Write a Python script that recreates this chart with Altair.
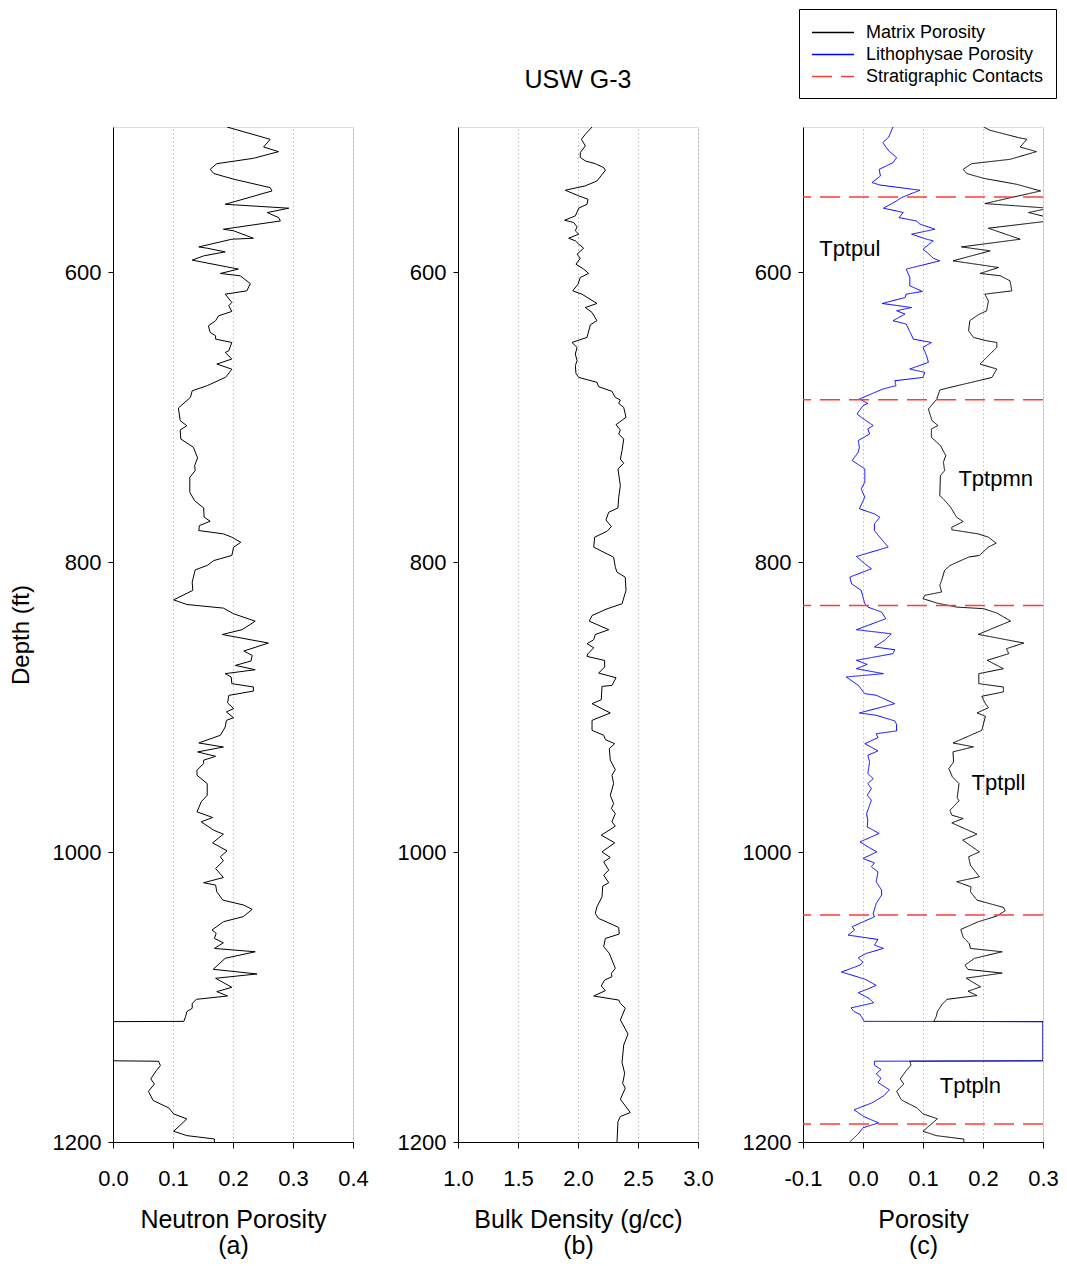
import altair as alt
import pandas as pd

FONT = "Liberation Sans"

# ---------------- data (depth ft, value) ----------------
neutron = [
    (500, 0.190), (508.5, 0.262), (513.8, 0.251), (517, 0.276), (521.6, 0.234), (525.3, 0.173),
    (529.2, 0.162), (532.1, 0.168), (536, 0.201), (541.8, 0.262), (544.1, 0.265), (553.3, 0.187),
    (556, 0.293), (559, 0.257), (562.5, 0.276), (564.8, 0.279), (570.5, 0.184), (571.6, 0.201),
    (576.7, 0.234), (577.4, 0.198), (582.7, 0.143), (583.6, 0.157), (586.1, 0.187), (588.9, 0.151),
    (591.8, 0.132), (598, 0.209), (601, 0.179), (602.6, 0.212), (608, 0.229), (613, 0.223),
    (615.3, 0.187), (621, 0.198), (623.3, 0.193), (627.2, 0.198), (630.2, 0.176), (633.6, 0.171),
    (637.1, 0.159), (641.7, 0.162), (644, 0.171), (646.3, 0.171), (648.6, 0.198), (654.3, 0.193),
    (655.5, 0.187), (660, 0.198), (663.5, 0.173), (667, 0.198), (671.5, 0.190),
    (672.7, 0.187), (678.4, 0.157), (681.9, 0.132), (686.5, 0.129), (693.8, 0.109), (702.5, 0.112),
    (706, 0.123), (709, 0.112), (715.2, 0.113), (720.9, 0.134), (728.3, 0.141), (733.5, 0.136),
    (737, 0.137), (741.6, 0.128), (751.9, 0.128), (757.7, 0.136), (762.7, 0.151), (769.1, 0.152),
    (771.9, 0.162), (774.9, 0.144), (778.3, 0.143), (780.6, 0.184), (782.9, 0.198), (786.4, 0.213),
    (789.8, 0.201), (795.5, 0.198), (799, 0.168), (802.4, 0.157), (805.4, 0.137), (813.9, 0.132),
    (819.6, 0.133), (826.1, 0.101), (829.3, 0.123), (831.8, 0.184), (835.7, 0.201), (840.8, 0.237),
    (846.7, 0.215), (850, 0.182), (855.9, 0.259), (861.4, 0.218), (864.4, 0.232), (868.3, 0.230),
    (871.3, 0.204), (874.3, 0.237), (877, 0.187), (879.3, 0.197), (883.9, 0.198), (886.2, 0.234),
    (889, 0.234), (892, 0.193), (897.2, 0.191), (901.1, 0.201), (903.4, 0.189), (907.4, 0.201),
    (909.2, 0.189), (913.8, 0.187), (919.5, 0.179), (924.8, 0.143), (927.6, 0.184), (931, 0.141),
    (934, 0.171), (936.7, 0.151), (939, 0.151), (943.6, 0.140), (947.1, 0.140), (952.8, 0.157),
    (960.9, 0.157), (965.4, 0.147), (972.3, 0.140), (976.2, 0.166), (979.2, 0.147), (985, 0.168),
    (987.7, 0.184), (993.7, 0.166), (999.2, 0.190), (1003.3, 0.179), (1006.1, 0.184), (1011.4, 0.171),
    (1017.6, 0.184), (1021.2, 0.151), (1022.8, 0.171), (1027.4, 0.173), (1033.2, 0.183), (1036.6, 0.218),
    (1039.6, 0.232), (1044.6, 0.217), (1048.1, 0.184), (1053.8, 0.165), (1056.1, 0.172), (1059.6, 0.169),
    (1062.6, 0.184), (1066.5, 0.169), (1068.8, 0.237), (1073.3, 0.187), (1080.9, 0.167), (1084.1, 0.240),
    (1087.1, 0.171), (1093.3, 0.198), (1096.3, 0.173), (1099.3, 0.191), (1101.6, 0.139), (1104.4, 0.132),
    (1107.8, 0.132), (1110.1, 0.123), (1113.5, 0.121), (1116.8, 0.118), (1117, 0.0), (1144, 0.0),
    (1144.3, 0.076), (1147.3, 0.079), (1150.8, 0.072), (1156.5, 0.063), (1160, 0.069), (1165.1, 0.059),
    (1171.4, 0.067), (1176.5, 0.093), (1180.6, 0.101), (1184.1, 0.123), (1192.6, 0.101), (1195.6, 0.123),
    (1197.9, 0.169), (1200, 0.169),
]

density = [
    (500, 2.117), (505, 2.061), (508.5, 2.028), (513, 2.061), (517.7, 2.019), (521, 2.019), (523.4, 2.061),
    (525.3, 2.144), (528, 2.214), (529.9, 2.228), (537.2, 2.158), (540.6, 2.061), (543.6, 1.894),
    (547.5, 2.006), (549.8, 2.083), (553.3, 2.075), (556, 2.006), (561.3, 1.978), (564.3, 1.889),
    (565.9, 1.964), (568.9, 1.992), (571.6, 1.978), (573.9, 2.006), (576.7, 1.922), (578.5, 1.978),
    (580.8, 2.006), (583.6, 2.047), (587.7, 1.992), (590.5, 2.019), (594.6, 1.983), (598, 2.047),
    (601, 2.089), (603.8, 2.019), (608.4, 2.0), (613, 1.956), (615.3, 2.033), (621.7, 2.158),
    (624.5, 2.061), (627.9, 2.117), (633.6, 2.158), (636.4, 2.103), (645.1, 2.075), (648.6, 1.95),
    (652, 1.992), (656.6, 1.978), (661.2, 1.992), (664.6, 1.978),
    (669.9, 1.983), (672.7, 2.006), (676.1, 2.158), (679.1, 2.172), (682.3, 2.283), (686.5, 2.311),
    (688.3, 2.353), (690.6, 2.339), (693.4, 2.381), (700.2, 2.4), (705.3, 2.317), (709, 2.353),
    (711.7, 2.339), (715.2, 2.381), (723.2, 2.367), (729, 2.353), (731.9, 2.381), (735.8, 2.333),
    (747.3, 2.353), (755.4, 2.339), (762.7, 2.333), (765.7, 2.256), (771, 2.233), (775.6, 2.278),
    (778.8, 2.242), (782.9, 2.139), (789.8, 2.131), (796.7, 2.297), (803.6, 2.311), (807, 2.325),
    (810.5, 2.394), (819.6, 2.4), (828.8, 2.367), (832.3, 2.242), (836.9, 2.117), (840.8, 2.094),
    (846.7, 2.256), (850, 2.144), (853.6, 2.131), (856.4, 2.075), (859.1, 2.131), (863.3, 2.083),
    (865.1, 2.075), (867.9, 2.222), (872.4, 2.222), (876.6, 2.172), (879.8, 2.317), (885.1, 2.283),
    (885.8, 2.2), (895, 2.194), (897.7, 2.117), (904.1, 2.269), (909.2, 2.117), (916.1, 2.117),
    (919.5, 2.214), (922.5, 2.228), (925.3, 2.306), (928.7, 2.261), (936.7, 2.269), (943.2, 2.311),
    (947.1, 2.283), (952.8, 2.297), (960.9, 2.269), (966.6, 2.297), (970, 2.278), (973.5, 2.311),
    (979.2, 2.283), (982.2, 2.311), (988.4, 2.194), (993.7, 2.306), (999.9, 2.2), (1003.8, 2.269),
    (1006.8, 2.214), (1012.5, 2.256),
    (1016, 2.214), (1021.2, 2.256), (1023.5, 2.206), (1030.9, 2.2), (1037.8, 2.158), (1042.4, 2.144),
    (1045.8, 2.172), (1052, 2.339), (1056.6, 2.344), (1059.6, 2.228), (1065.3, 2.214), (1069.9, 2.261),
    (1080.2, 2.311), (1083.7, 2.278), (1086, 2.283), (1088.3, 2.222), (1092.4, 2.194), (1095.6, 2.228),
    (1099.3, 2.131), (1102.1, 2.339), (1104.4, 2.353), (1107.8, 2.394), (1115.8, 2.353), (1125.5, 2.417),
    (1133.1, 2.381), (1145.2, 2.367), (1152.6, 2.389), (1159.5, 2.372), (1162.9, 2.394), (1170.5, 2.353),
    (1179.7, 2.436), (1182.4, 2.353), (1185.9, 2.333), (1200, 2.325),
]

matrix = [
    (500, 0.201), (502.3, 0.212), (507.3, 0.259), (508.5, 0.273), (513.8, 0.262), (517, 0.289),
    (522.3, 0.245), (525.3, 0.181), (529.2, 0.167), (532.1, 0.173), (535.4, 0.201), (539.5, 0.256),
    (544.1, 0.296), (552.8, 0.203), (556, 0.31), (559, 0.276), (562.5, 0.31), (564.8, 0.31),
    (569.8, 0.209), (577.4, 0.262), (582.7, 0.164), (585.4, 0.212), (592.3, 0.150), (596.9, 0.226),
    (601, 0.195), (602.6, 0.229), (606.1, 0.245), (613, 0.248), (615.3, 0.203), (619.9, 0.209),
    (626.8, 0.206), (629.5, 0.192), (633.6, 0.178), (640.5, 0.176), (645.1, 0.184), (647.4, 0.206),
    (648.6, 0.223), (652, 0.223), (663.5, 0.195), (666.9, 0.223), (672.7, 0.215), (675, 0.192),
    (679.6, 0.145), (681.4, 0.128), (687.6, 0.123), (694.5, 0.109),
    (702.5, 0.115), (705.9, 0.125), (708.2, 0.114), (714, 0.114), (719.7, 0.129), (726.6, 0.138),
    (731.2, 0.134), (737, 0.136), (740.4, 0.129), (754.2, 0.128), (756.5, 0.134), (762.2, 0.146),
    (769.1, 0.156), (772.1, 0.167), (776, 0.148), (777.8, 0.148), (780.6, 0.192), (782.9, 0.209),
    (787, 0.222), (789.7, 0.209), (795.5, 0.194), (796.6, 0.176), (802.4, 0.145), (805.8, 0.136),
    (812.7, 0.131), (816.1, 0.128), (820.7, 0.131), (823, 0.103), (825.3, 0.100), (828.3, 0.123),
    (831.1, 0.156), (832.2, 0.201), (835.2, 0.223), (840.7, 0.246), (849.9, 0.192), (855.9, 0.268),
    (859.8, 0.239), (863.2, 0.243), (867.8, 0.207), (873.6, 0.234), (877, 0.193), (883.9, 0.193),
    (886.2, 0.234), (889.6, 0.234), (892.6, 0.198), (897.7, 0.204), (900.5, 0.209),
    (904.1, 0.190), (906.4, 0.204), (916.1, 0.198), (924.8, 0.150), (927.5, 0.184), (930.9, 0.150),
    (937.9, 0.151), (942.5, 0.143), (948.2, 0.149), (952.8, 0.160), (962.5, 0.157), (964.7, 0.160),
    (971.2, 0.145), (974.6, 0.148), (976.9, 0.167), (979.9, 0.148), (987.7, 0.190), (991.8, 0.166),
    (999.9, 0.194), (1003.3, 0.176), (1009.1, 0.179), (1017.1, 0.194), (1020.5, 0.156), (1024, 0.180),
    (1027.4, 0.179), (1033.2, 0.190), (1038.2, 0.234), (1040.5, 0.237), (1044.2, 0.223), (1048.1, 0.192),
    (1053.4, 0.163), (1058.9, 0.167), (1063, 0.177), (1066.5, 0.179),
    (1068.8, 0.232), (1073.3, 0.186), (1078, 0.170), (1081, 0.175), (1083.5, 0.232), (1087, 0.172),
    (1093, 0.196), (1096, 0.175), (1099, 0.190), (1101.6, 0.140), (1105, 0.132), (1110, 0.124),
    (1113.5, 0.122), (1116.8, 0.118), (1117, 0.3), (1144, 0.3), (1144.3, 0.078), (1147, 0.080),
    (1150.8, 0.072), (1156.5, 0.062), (1160, 0.068), (1165, 0.056), (1171, 0.064), (1176.5, 0.090),
    (1180.6, 0.100), (1184, 0.124), (1192.6, 0.100), (1195.6, 0.122), (1198, 0.168), (1200, 0.168),
]

litho = [
    (500, 0.050), (503.9, 0.046), (506.9, 0.043), (510.8, 0.033), (516.5, 0.043), (521.1, 0.056),
    (524.6, 0.050), (529.2, 0.027), (533.8, 0.029), (538.3, 0.015), (540, 0.028), (543.6, 0.095),
    (548.7, 0.064), (551, 0.056), (556, 0.034), (557.9, 0.056), (559, 0.067), (562.5, 0.060),
    (564.8, 0.089), (567, 0.095), (570.5, 0.120), (573.9, 0.081), (577.4, 0.106), (578.5, 0.117),
    (584.3, 0.100), (587.3, 0.109), (590.5, 0.117), (592.3, 0.128), (598, 0.072), (603.8, 0.078),
    (609.5, 0.078), (613.4, 0.099), (615.3, 0.072), (617.6, 0.070), (621.7, 0.032), (624.5, 0.081),
    (626.7, 0.056), (629, 0.070), (633.6, 0.050), (635.9, 0.072), (646.3, 0.084), (648.6, 0.114),
    (652, 0.100), (657.7, 0.106), (662.3, 0.109), (666.9, 0.078), (669.2, 0.103), (672.7, 0.100),
    (675, 0.053), (678.4, 0.055), (680.7, 0.033), (687.6, -0.006), (690.6, 0.008), (692.2, 0.000),
    (697.9, -0.010), (700.2, -0.003), (705.9, 0.017), (708.2, 0.008), (711.7, 0.011), (716.3, -0.008),
    (720.9, -0.006), (724.3, -0.008), (730, -0.018), (735.8, 0.003), (745, 0.003), (749.6, -0.003),
    (755.3, 0.003), (763.3, -0.006), (766.8, 0.019), (769.1, 0.028), (773.7, 0.019), (778.3, 0.019),
    (782.9, 0.028), (789.7, 0.042), (796.2, -0.011), (801.2, 0.003), (804.7, 0.014), (810.4, -0.022),
    (815, -0.019), (819.6, -0.003), (824.2, 0.000), (828.8, 0.003), (831.1, 0.008), (834.5, 0.031),
    (839.1, 0.038), (846.7, -0.011), (849.5, 0.047), (854, 0.036), (858.6, 0.019), (860.5, 0.053),
    (863.2, 0.050), (867.8, -0.011), (870.6, 0.007), (873.6, -0.011), (877, 0.034), (879.3, -0.028),
    (885, -0.008), (890.8, 0.003), (891.9, 0.022), (897.7, 0.053),
    (904.1, -0.006), (905.7, 0.022), (909.6, 0.053), (912, 0.056), (916.5, 0.056), (918.4, 0.022),
    (921.1, 0.025), (925.3, 0.003), (930.3, 0.025), (933.3, 0.008), (937.9, 0.011), (945.9, 0.008),
    (949.4, 0.017), (952.8, 0.008), (956.3, 0.014), (960.8, 0.007), (964.3, 0.014), (973.5, 0.006),
    (978.1, 0.008), (982.7, 0.007), (987.2, 0.027), (993, -0.005), (996.4, 0.008), (999.9, 0.023),
    (1004.5, 0.000), (1007.5, 0.019), (1010.2, 0.014), (1013.7, 0.025), (1020.5, 0.022), (1026.3, 0.031),
    (1029.7, 0.031), (1035.5, 0.022), (1042.4, 0.017), (1044.7, 0.019), (1051.5, -0.018), (1053.8, -0.014),
    (1057.3, -0.025), (1060.3, 0.025), (1064.2, 0.019), (1066.5, 0.034),
    (1070, 0.005), (1073, -0.008), (1076, 0.0), (1078, -0.005), (1082.8, -0.036), (1086, -0.010),
    (1088, 0.005), (1092, 0.022), (1095, 0.005), (1097, -0.008), (1101, 0.010), (1104, 0.018),
    (1107.5, -0.020), (1110, -0.015), (1112, -0.005), (1116.8, 0.002), (1117, 0.3), (1144, 0.3),
    (1144.3, 0.019), (1147, 0.019), (1150, 0.030), (1153, 0.022), (1156, 0.030), (1159, 0.025),
    (1164, 0.044), (1168, 0.035), (1173, 0.015), (1177.8, -0.015), (1182.6, 0.002), (1186.8, 0.026),
    (1190.2, 0.000), (1194.4, -0.008), (1199.2, -0.020), (1200, -0.022),
]

contacts = [548.2, 688.1, 830.0, 1043.5, 1187.5]

unit_names = ["Tptpul", "Tptpmn", "Tptpll", "Tptpln"]
unit_depths = [584.0, 742.5, 952.6, 1161.3]
unit_pos = [-0.073, 0.159, 0.181, 0.128]

series_names = ["Matrix Porosity", "Lithophysae Porosity", "Stratigraphic Contacts"]
series_colors = ["#000000", "#0000ff", "#ff3b3b"]


def frame(pairs, series=None):
    d = pd.DataFrame(pairs, columns=["depth", "value"])
    d["idx"] = range(len(d))
    if series is not None:
        d["series"] = series
    return d


neutron_df = frame(neutron)
density_df = frame(density)
por_df = pd.concat([frame(matrix, series_names[0]), frame(litho, series_names[1])], ignore_index=True)
contact_df = pd.DataFrame({"depth": contacts, "series": series_names[2]})
unit_df = pd.DataFrame({"name": unit_names, "depth": unit_depths, "value": unit_pos})

W, H = 240, 1015
LABEL_FS = 22
TITLE_FS = 25

y_scale = alt.Scale(domain=[500, 1200], reverse=True, nice=False, zero=False)


def y_axis(title=None):
    kw = dict(
        values=[600, 800, 1000, 1200], format="d", grid=False, tickSize=5, tickColor="black",
        domainColor="black", labelFontSize=LABEL_FS, labelFont=FONT, labelColor="black",
        labelPadding=7,
    )
    if title:
        kw.update(title=title, titleFontSize=24, titleFont=FONT, titleFontWeight="normal",
                  titleColor="black", titlePadding=19)
    else:
        kw.update(title=None)
    return alt.Axis(**kw)


def x_axis(title_lines, values):
    return alt.Axis(
        values=values, labelExpr="replace(format(datum.value, '.1f'), '\u2212', '-')",
        grid=True, gridColor="#9a9a9a", gridDash=[1, 3], gridWidth=1,
        tickSize=6, tickColor="black", domainColor="black",
        labelFontSize=LABEL_FS, labelFont=FONT, labelColor="black", labelPadding=20,
        labelFlush=False, labelOverlap=False,
        title=title_lines, titleFontSize=TITLE_FS, titleFont=FONT, titleFontWeight="normal",
        titleColor="black", titlePadding=18, titleLineHeight=26,
    )


panel_a = alt.Chart(neutron_df).mark_line(color="black", strokeWidth=1, clip=True).encode(
    x=alt.X("value:Q", scale=alt.Scale(domain=[0, 0.4], nice=False),
            axis=x_axis(["Neutron Porosity", "(a)"], [0, 0.1, 0.2, 0.3, 0.4])),
    y=alt.Y("depth:Q", scale=y_scale, axis=y_axis("Depth (ft)")),
    order="idx:Q",
).properties(width=W, height=H)

panel_b = alt.Chart(density_df).mark_line(color="black", strokeWidth=1, clip=True).encode(
    x=alt.X("value:Q", scale=alt.Scale(domain=[1, 3], nice=False),
            axis=x_axis(["Bulk Density (g/cc)", "(b)"], [1, 1.5, 2, 2.5, 3])),
    y=alt.Y("depth:Q", scale=y_scale, axis=y_axis()),
    order="idx:Q",
).properties(
    width=W, height=H,
    title=alt.TitleParams("USW G-3", fontSize=TITLE_FS, font=FONT, fontWeight="normal", color="black",
                          offset=34, anchor="middle"),
)

color_scale = alt.Scale(domain=series_names, range=series_colors)
dash_scale = alt.Scale(domain=series_names, range=[[1, 0], [1, 0], [20, 9]])
legend = alt.Legend(
    title=None, orient="none", legendX=686, legendY=-118, strokeColor="black", fillColor="white",
    padding=12, labelFontSize=18, labelFont=FONT, labelColor="black", labelLimit=400,
    symbolType="M-1,0H3", symbolSize=441, symbolStrokeWidth=1.3, rowPadding=1, labelOffset=32,
)

x_c = alt.X("value:Q", scale=alt.Scale(domain=[-0.1, 0.3], nice=False),
            axis=x_axis(["Porosity", "(c)"], [-0.1, 0, 0.1, 0.2, 0.3]))
y_c = alt.Y("depth:Q", scale=y_scale, axis=y_axis())

lines_c = alt.Chart(por_df).mark_line(strokeWidth=1, clip=True).encode(
    x=x_c, y=y_c, order="idx:Q",
    color=alt.Color("series:N", scale=color_scale, legend=legend),
    strokeDash=alt.StrokeDash("series:N", scale=dash_scale, legend=legend),
    detail="series:N",
)
rules_c = alt.Chart(contact_df).mark_rule(strokeWidth=1.5).encode(
    y=alt.Y("depth:Q", scale=y_scale),
    color=alt.Color("series:N", scale=color_scale, legend=legend),
    strokeDash=alt.StrokeDash("series:N", scale=dash_scale, legend=legend),
)
text_c = alt.Chart(unit_df).mark_text(align="left", baseline="middle", fontSize=22, font=FONT,
                                      color="black").encode(
    x=alt.X("value:Q"), y=alt.Y("depth:Q"), text="name:N",
)
panel_c = alt.layer(lines_c, rules_c, text_c).properties(width=W, height=H)

chart = alt.hconcat(panel_a, panel_b, panel_c, spacing=105, bounds="flush").properties(
    padding={"left": 0, "top": 0, "right": 0, "bottom": 0}
).configure_view(stroke="black", strokeWidth=1).configure(background="white")

chart.save("out.html", embed_options={"renderer": "svg", "actions": False})
